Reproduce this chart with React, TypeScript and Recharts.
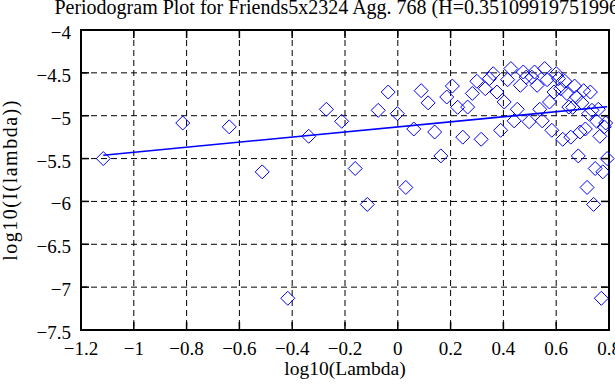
import { ScatterChart, Scatter, XAxis, YAxis, CartesianGrid, ReferenceArea } from "recharts";

// log10(lambda) for each Fourier frequency
const lambdaLog = [
  -1.1156, -0.8146, -0.6385, -0.5136, -0.4167, -0.3375, -0.2705, -0.2125, -0.1614, -0.1156,
  -0.0742, -0.0364, -0.0017, 0.0305, 0.0605, 0.0885, 0.1148, 0.1397, 0.1631, 0.1854,
  0.2066, 0.2268, 0.2461, 0.2646, 0.2823, 0.2994, 0.3157, 0.3315, 0.3468, 0.3615,
  0.3757, 0.3895, 0.4029, 0.4159, 0.4284, 0.4407, 0.4526, 0.4642, 0.4754, 0.4864,
  0.4972, 0.5076, 0.5179, 0.5278, 0.5376, 0.5471, 0.5565, 0.5656, 0.5746, 0.5834,
  0.5919, 0.6004, 0.6087, 0.6168, 0.6247, 0.6326, 0.6403, 0.6478, 0.6552, 0.6625,
  0.6697, 0.6768, 0.6837, 0.6906, 0.6973, 0.7039, 0.7105, 0.7169, 0.7232, 0.7295,
  0.7356, 0.7417, 0.7477, 0.7536, 0.7594, 0.7652, 0.7709, 0.7765, 0.782, 0.7875, 0.7929,
];

// log10(I(lambda))
const periodLog = [
  -5.5, -5.085, -5.13, -5.655, -7.13, -5.24, -4.925, -5.065, -5.616, -6.035,
  -4.937, -4.724, -4.976, -5.837, -5.155, -4.708, -4.85, -5.19, -5.469, -4.782,
  -4.654, -4.902, -5.25, -4.899, -4.74, -4.598, -5.275, -4.685, -4.568, -4.51,
  -4.724, -5.17, -4.84, -4.58, -4.45, -5.06, -4.925, -4.646, -4.49, -4.55,
  -5.07, -4.55, -4.49, -4.646, -4.925, -5.06, -4.45, -4.58, -4.84, -5.17,
  -4.724, -4.51, -4.568, -4.685, -5.275, -4.598, -4.74, -4.899, -5.25, -4.902,
  -4.654, -4.782, -5.469, -5.19, -4.85, -4.708, -5.155, -5.837, -4.976, -4.724,
  -4.937, -6.035, -5.616, -5.065, -4.925, -5.24, -7.13, -5.655, -5.13, -5.085, -5.5,
];

// least squares fit end points
const fitX = [-1.1156, 0.7929];
const fitY = [-5.461, -4.896];

const xTicks = [-1.2, -1, -0.8, -0.6, -0.4, -0.2, 0, 0.2, 0.4, 0.6, 0.8];
const yTicks = [-7.5, -7, -6.5, -6, -5.5, -5, -4.5, -4];

const points = lambdaLog.map((x, i) => ({ x, y: periodLog[i] }));
const fit = fitX.map((x, i) => ({ x, y: fitY[i] }));

const FONT = "Liberation Serif, DejaVu Serif, serif";
const PLOT = { left: 81, right: 609, top: 30, bottom: 330 };
const BLUE = "#0000ff";

const txt = (size: number) => ({ fontFamily: FONT, fontSize: size, fill: "#000" });

const fmt = (v: number) => String(v).replace("-", "\u2212");

function LeftTick(props: any) {
  const { x, y, payload } = props;
  return (
    <g>
      <line x1={x} x2={x + 8} y1={y} y2={y} stroke="#000" strokeWidth={1.5} />
      <line x1={PLOT.right} x2={PLOT.right - 8} y1={y} y2={y} stroke="#000" strokeWidth={1.5} />
      <text x={x - 10} y={y + 9} textAnchor="end" style={txt(19)}>
        {fmt(payload.value)}
      </text>
    </g>
  );
}

function BottomTick(props: any) {
  const { x, y, payload } = props;
  return (
    <g>
      <line x1={x} x2={x} y1={y} y2={y - 8} stroke="#000" strokeWidth={1.5} />
      <line x1={x} x2={x} y1={PLOT.top} y2={PLOT.top + 8} stroke="#000" strokeWidth={1.5} />
      <text x={x} y={y + 25} textAnchor="middle" style={txt(19)}>
        {fmt(payload.value)}
      </text>
    </g>
  );
}

function Diamond(props: any) {
  const { cx, cy } = props;
  const r = 7;
  return (
    <path
      d={`M${cx - r},${cy}L${cx},${cy - r}L${cx + r},${cy}L${cx},${cy + r}Z`}
      fill="none"
      stroke={BLUE}
      strokeWidth={1}
    />
  );
}

export default function App() {
  return (
    <div style={{ position: "absolute", left: 0, top: 0, width: 615, height: 385, background: "#fff" }}>
      <ScatterChart
        width={615}
        height={385}
        margin={{ top: PLOT.top, right: 615 - PLOT.right, bottom: 0, left: 0 }}
      >
        <CartesianGrid stroke="#000" strokeDasharray="6 4" strokeWidth={1} />
        <XAxis
          type="number"
          dataKey="x"
          domain={[-1.2, 0.8]}
          ticks={xTicks}
          interval={0}
          height={385 - PLOT.bottom}
          axisLine={false}
          tickLine={false}
          tickSize={0}
          tickMargin={0}
          tick={<BottomTick />}
        />
        <YAxis
          type="number"
          dataKey="y"
          domain={[-7.5, -4]}
          ticks={yTicks}
          interval={0}
          width={PLOT.left}
          axisLine={false}
          tickLine={false}
          tickSize={0}
          tickMargin={0}
          tick={<LeftTick />}
        />
        <ReferenceArea x1={-1.2} x2={0.8} y1={-7.5} y2={-4} fill="none" stroke="#000" strokeWidth={2} />
        <Scatter data={points} shape={<Diamond />} isAnimationActive={false} />
        <Scatter
          data={fit}
          line={{ stroke: BLUE, strokeWidth: 1.6 }}
          shape={() => <g />}
          isAnimationActive={false}
        />
      </ScatterChart>
      <svg width={615} height={385} style={{ position: "absolute", left: 0, top: 0, pointerEvents: "none" }}>
        <text x={345} y={14} textAnchor="middle" style={txt(20)}>
          Periodogram Plot for Friends5x2324 Agg. 768 (H=0.351099197519966)
        </text>
        <text x={345} y={375} textAnchor="middle" style={txt(19.5)}>
          log10(Lambda)
        </text>
        <text
          x={17}
          y={180}
          textAnchor="middle"
          transform="rotate(-90 17 180)"
          style={{ ...txt(20), letterSpacing: 1.5 }}
        >
          log10(I(lambda))
        </text>
      </svg>
    </div>
  );
}
